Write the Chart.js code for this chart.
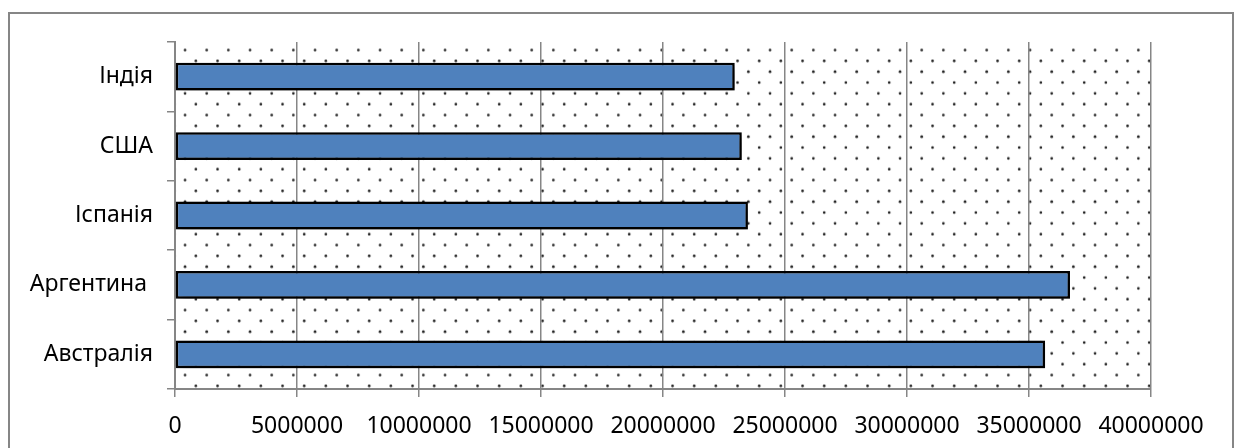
<!DOCTYPE html>
<html>
<head>
<meta charset="utf-8">
<script src="https://cdn.jsdelivr.net/npm/chart.js@4.4.0/dist/chart.umd.min.js"></script>
<style>
    html, body { margin: 0; padding: 0; background: #fff; }
    #wrap { width: 1239px; height: 448px; position: relative; }
</style>
</head>
<body>
<div id="wrap"><canvas id="countryChart"></canvas></div>
<script>
// Data
const countries = ['Індія', 'США', 'Іспанія', 'Аргентина ', 'Австралія'];
const amounts = [22940000, 23230000, 23480000, 36680000, 35660000];
const axisMax = 40000000;
const axisStep = 5000000;

const FONT = { family: '"Noto Sans", sans-serif', size: 23 };
const GRID_GREY = '#868686';

// dotted fill for the plot area (staggered dots)
function makeDots() {
    const tile = document.createElement('canvas');
    tile.width = 65;
    tile.height = 65;
    const t = tile.getContext('2d');
    t.fillStyle = '#222';
    const dx = 65 / 3, dy = 65 / 6;
    for (let r = 0; r < 6; r++) {
        const shift = (r % 2) ? dx / 2 : 0;
        for (let c = 0; c < 4; c++) {
            const x = c * dx + shift, y = r * dy + 1.5;
            t.beginPath();
            t.arc(x, y, 1.35, 0, Math.PI * 2);
            t.fill();
        }
    }
    return tile;
}

const backgroundPlugin = {
    id: 'plotBackground',
    beforeDraw(chart) {
        const { ctx, chartArea: a } = chart;
        ctx.save();
        // outer frame
        ctx.strokeStyle = GRID_GREY;
        ctx.lineWidth = 2;
        ctx.strokeRect(9, 13, 1224, 460);
        // dots
        const pat = ctx.createPattern(makeDots(), 'repeat');
        pat.setTransform(new DOMMatrix().translate(185, 48.5));
        ctx.fillStyle = pat;
        ctx.fillRect(a.left, a.top, a.right - a.left, a.bottom - a.top);
        ctx.restore();
    }
};

const shadowPlugin = {
    id: 'barShadow',
    beforeDatasetsDraw(chart) {
        const ctx = chart.ctx;
        ctx.save();
        ctx.shadowColor = 'rgba(0,0,0,0.5)';
        ctx.shadowBlur = 8;
        ctx.shadowOffsetX = 3;
        ctx.shadowOffsetY = 4;
    },
    afterDatasetsDraw(chart) {
        chart.ctx.restore();
    }
};

new Chart(document.getElementById('countryChart'), {
    type: 'bar',
    data: {
        labels: countries,
        datasets: [{
            data: amounts,
            backgroundColor: '#4f81bd',
            borderColor: '#000',
            borderWidth: 2.5,
            borderSkipped: false,
            categoryPercentage: 1,
            barPercentage: 0.4
        }]
    },
    options: {
        indexAxis: 'y',
        responsive: true,
        maintainAspectRatio: false,
        animation: false,
        layout: { padding: { left: 0, top: 42, right: 88, bottom: 0 } },
        plugins: {
            legend: { display: false },
            tooltip: { enabled: false }
        },
        scales: {
            x: {
                min: 0,
                max: axisMax,
                ticks: {
                    stepSize: axisStep,
                    color: '#000',
                    font: FONT,
                    padding: 16,
                    maxRotation: 0,
                    callback: v => String(v)
                },
                grid: { color: GRID_GREY, lineWidth: 1.5, tickLength: 8 },
                border: { color: GRID_GREY, width: 2 },
                afterFit(scale) { scale.height = 59; }
            },
            y: {
                ticks: { color: '#000', font: FONT, padding: 14 },
                grid: { color: GRID_GREY, lineWidth: 1.5, drawOnChartArea: false, tickLength: 8 },
                border: { color: GRID_GREY, width: 2 },
                afterFit(scale) { scale.width = 175; }
            }
        }
    },
    plugins: [backgroundPlugin, shadowPlugin]
});
</script>
</body>
</html>
